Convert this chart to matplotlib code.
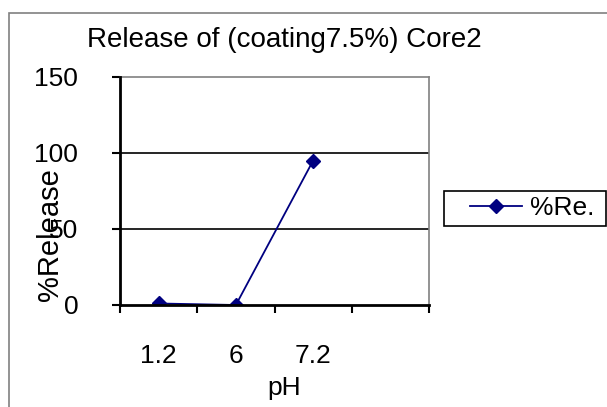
import matplotlib.pyplot as plt
from matplotlib.patches import Rectangle

# data
categories = ['1.2', '6', '7.2', '']
release = [1, 0, 95]
y_ticks = [0, 50, 100, 150]

W, H = 607, 407
plt.rcParams['font.family'] = ['Liberation Sans', 'DejaVu Sans']
FS = 19

fig = plt.figure(figsize=(W / 100, H / 100), dpi=100)

# chart area border
fig.patches.append(Rectangle((9 / W, -0.01), 1.0, 1 - 13 / H + 0.01, transform=fig.transFigure,
                             fill=False, edgecolor='#808080', linewidth=1.2))

left, right, top, bottom = 120, 429, 77, 305
ax = fig.add_axes([left / W, 1 - bottom / H, (right - left) / W, (bottom - top) / H])

x = list(range(len(release)))
ax.plot(x, release, color='#000080', linewidth=1.3, marker='D', markersize=7.5,
        label='%Re.')

ax.set_xlim(-0.5, len(categories) - 0.5)
ax.set_ylim(0, 150)
ax.set_yticks(y_ticks)
ax.set_yticklabels([str(v) for v in y_ticks], fontsize=FS)
ax.set_xticks(range(len(categories)))
ax.set_xticklabels(categories, fontsize=FS)
ax.tick_params(axis='x', length=0, pad=28)
ax.set_xticks([i - 0.5 for i in range(len(categories) + 1)], minor=True)
ax.tick_params(axis='x', which='minor', length=6, width=1.5, direction='out')
ax.tick_params(axis='y', length=6, width=1.5, direction='out', pad=24)

for v in [50, 100]:
    ax.axhline(v, color='black', linewidth=1.2, zorder=0)

ax.spines['left'].set_linewidth(2)
ax.spines['bottom'].set_linewidth(2)
ax.spines['top'].set_color('#808080')
ax.spines['right'].set_color('#808080')
ax.spines['top'].set_linewidth(1.2)
ax.spines['right'].set_linewidth(1.2)
for sp in ['left', 'bottom']:
    ax.spines[sp].set_zorder(5)

fig.text(284 / W, 1 - 47 / H, 'Release of (coating7.5%) Core2', fontsize=20,
         ha='center', va='baseline')
fig.text(284 / W, 1 - 395 / H, 'pH', fontsize=FS, ha='center', va='baseline')
fig.text(50 / W, 1 - 235 / H, '%Release', fontsize=21, rotation=90,
         ha='center', va='center')

# legend box drawn separately so its padding matches the reference
fig.patches.append(Rectangle((444 / W, 1 - 226 / H), 162 / W, 35 / H,
                             transform=fig.transFigure, fill=False,
                             edgecolor='black', linewidth=1.2))
ax.legend(loc='center left', bbox_to_anchor=(470 / W, 1 - 208 / H),
          bbox_transform=fig.transFigure, fontsize=FS, frameon=False,
          handlelength=1.97, borderpad=0, handletextpad=0.3, borderaxespad=0)

fig.savefig('out.png', dpi=100)
